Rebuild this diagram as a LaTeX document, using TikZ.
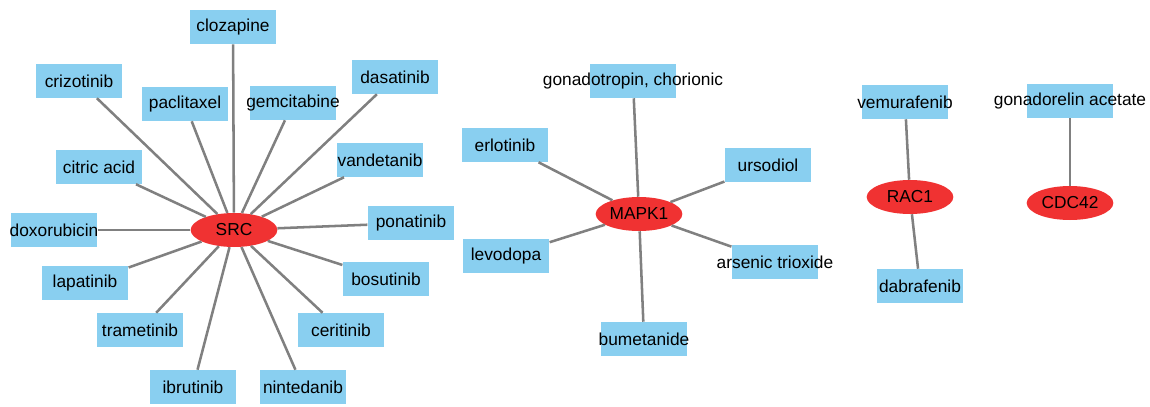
\documentclass[tikz,border=0pt]{standalone}
\usepackage{fontspec}
\setmainfont{Liberation Sans}
\usetikzlibrary{shapes.geometric}
\definecolor{DrugClr}{RGB}{137,207,240}
\definecolor{GeneClr}{RGB}{240,50,50}
\definecolor{EdgeClr}{RGB}{128,128,128}
\newcommand{\Lbl}[1]{\makebox[0pt][c]{#1}}

\begin{document}
\begin{tikzpicture}[x=0.75pt,y=-0.75pt,
  drug/.style={rectangle,fill=DrugClr,minimum width=65pt,minimum height=25.5pt,inner sep=0pt,font=\fontsize{13}{15}\selectfont},
  gene/.style={ellipse,fill=GeneClr,minimum width=65pt,minimum height=25.5pt,inner sep=0pt,font=\fontsize{13}{15}\selectfont},
  link/.style={draw=EdgeClr,line width=1.9pt}]
\useasboundingbox (0,0) rectangle (1150,407);

% targets
\node[gene] (SRC) at (234,230) {\Lbl{SRC}};
\node[gene] (MAPK1) at (639,214) {\Lbl{MAPK1}};
\node[gene] (RAC1) at (910,197) {\Lbl{RAC1}};
\node[gene] (CDC42) at (1070,203) {\Lbl{CDC42}};

% drugs of SRC
\node[drug] (clozapine) at (233,27) {\Lbl{clozapine}};
\node[drug] (crizotinib) at (79,81) {\Lbl{crizotinib}};
\node[drug] (paclitaxel) at (185,104) {\Lbl{paclitaxel}};
\node[drug] (gemcitabine) at (293,103) {\Lbl{gemcitabine}};
\node[drug] (dasatinib) at (395,77) {\Lbl{dasatinib}};
\node[drug] (citricacid) at (99,167) {\Lbl{citric acid}};
\node[drug] (vandetanib) at (380,160) {\Lbl{vandetanib}};
\node[drug] (doxorubicin) at (54,230) {\Lbl{doxorubicin}};
\node[drug] (ponatinib) at (411,223) {\Lbl{ponatinib}};
\node[drug] (lapatinib) at (85,283) {\Lbl{lapatinib}};
\node[drug] (bosutinib) at (386,279) {\Lbl{bosutinib}};
\node[drug] (trametinib) at (140,330) {\Lbl{trametinib}};
\node[drug] (ceritinib) at (341,330) {\Lbl{ceritinib}};
\node[drug] (ibrutinib) at (193,387) {\Lbl{ibrutinib}};
\node[drug] (nintedanib) at (303,387) {\Lbl{nintedanib}};

% drugs of MAPK1
\node[drug] (gonadotropin) at (633,81) {\Lbl{gonadotropin, chorionic}};
\node[drug] (erlotinib) at (505,145) {\Lbl{erlotinib}};
\node[drug] (ursodiol) at (768,165) {\Lbl{ursodiol}};
\node[drug] (levodopa) at (506,256) {\Lbl{levodopa}};
\node[drug] (arsenic) at (775,262) {\Lbl{arsenic trioxide}};
\node[drug] (bumetanide) at (644,339) {\Lbl{bumetanide}};

% drugs of RAC1 and CDC42
\node[drug] (vemurafenib) at (905,102) {\Lbl{vemurafenib}};
\node[drug] (dabrafenib) at (920,286) {\Lbl{dabrafenib}};
\node[drug] (gonadorelin) at (1070,101) {\Lbl{gonadorelin acetate}};

% edges
\foreach \d in {clozapine,crizotinib,paclitaxel,gemcitabine,dasatinib,citricacid,vandetanib,
  doxorubicin,ponatinib,lapatinib,bosutinib,trametinib,ceritinib,ibrutinib,nintedanib}
  \draw[link] (SRC) -- (\d);
\foreach \d in {gonadotropin,erlotinib,ursodiol,levodopa,arsenic,bumetanide}
  \draw[link] (MAPK1) -- (\d);
\draw[link] (RAC1) -- (vemurafenib);
\draw[link] (RAC1) -- (dabrafenib);
\draw[link] (CDC42) -- (gonadorelin);

\end{tikzpicture}
\end{document}
